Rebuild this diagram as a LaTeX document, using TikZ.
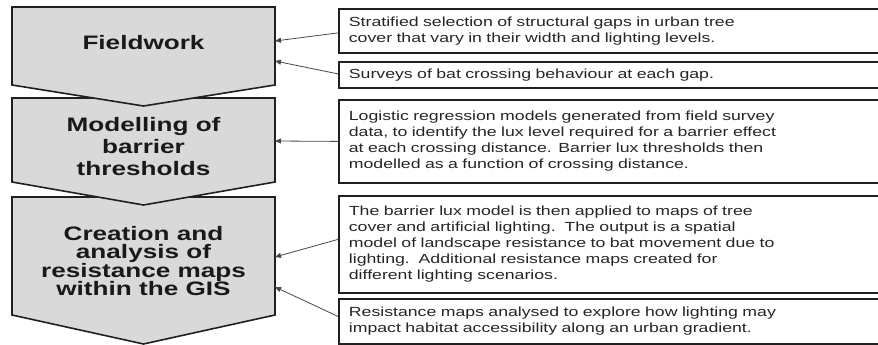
\documentclass[tikz,border=0pt]{standalone}
\usepackage{fontspec}
\setmainfont{Liberation Sans}[FakeStretch=1.34]
\usetikzlibrary{arrows.meta}

\definecolor{stagefill}{HTML}{D9D9D9}
\definecolor{edgegray}{HTML}{202020}
\definecolor{textgray}{HTML}{262626}
\definecolor{linkgray}{HTML}{484848}

\tikzset{
  stagebox/.style={fill=stagefill, draw=edgegray, line width=1.6pt, line join=miter},
  stagetext/.style={align=center, text=black!90, font=\bfseries\fontsize{19.5}{22}\selectfont},
  notebox/.style={draw=edgegray, line width=1.8pt, fill=white, anchor=north west,
    minimum width=545pt, inner xsep=10pt, inner ysep=0pt, text width=525pt,
    align=left, text=textgray, font=\fontsize{13.2}{16}\selectfont},
  link/.style={draw=linkgray, line width=0.8pt, -{Triangle[length=6pt,width=5pt]}}
}

\begin{document}
\begin{tikzpicture}[x=1pt,y=-1pt]
  \clip (0,0) rectangle (878,345);
  \fill[white] (0,0) rectangle (878,345);

  % process stages, drawn bottom-up so each point lies over the next stage
  \draw[stagebox] (12,197) -- (275,197) -- (275,315) -- (143.5,344) -- (12,315) -- cycle;
  \draw[stagebox] (12,98) -- (275,98) -- (275,182) -- (143.5,205) -- (12,182) -- cycle;
  \draw[stagebox] (12,7) -- (275,7) -- (275,85) -- (143.5,106) -- (12,85) -- cycle;

  \node[stagetext] (fw) at (143.5,43) {Fieldwork};
  \node[stagetext, font=\bfseries\fontsize{19.5}{22}\selectfont] (mod) at (143.5,147)
    {Modelling of\\barrier\\thresholds};
  \node[stagetext, font=\bfseries\fontsize{19.5}{18.5}\selectfont] (gis) at (143.5,261)
    {Creation and\\analysis of\\resistance maps\\within the GIS};

  % arrow targets on the right edge of the stages
  \coordinate (fwa) at (275,41);
  \coordinate (fwb) at (275,61);
  \coordinate (moda) at (275,141);
  \coordinate (gisa) at (275,257);
  \coordinate (gisb) at (275,287);

  % description boxes
  \node[notebox, minimum height=44pt] (n1) at (338,8)
    {Stratified selection of structural gaps in urban tree\\cover that vary in their width and lighting levels.};
  \node[notebox, minimum height=26pt] (n2) at (338,61)
    {Surveys of bat crossing behaviour at each gap.};
  \node[notebox, minimum height=83pt] (n3) at (338,99)
    {Logistic regression models generated from field survey\\data, to identify the lux level required for a barrier effect\\at each crossing distance. Barrier lux thresholds then\\modelled as a function of crossing distance.};
  \node[notebox, minimum height=97pt] (n4) at (338,195)
    {The barrier lux model is then applied to maps of tree\\cover and artificial lighting.\ \ The output is a spatial\\model of landscape resistance to bat movement due to\\lighting.\ \ Additional resistance maps created for\\different lighting scenarios.};
  \node[notebox, minimum height=45pt] (n5) at (338,298)
    {Resistance maps analysed to explore how lighting may\\impact habitat accessibility along an urban gradient.};

  % connectors
  \draw[link] ([yshift=-2pt]n1.west) -- (fwa);
  \draw[link] ([yshift=1pt]n2.west) -- (fwb);
  \draw[link] (n3.west) -- (moda);
  \draw[link] ([yshift=5pt]n4.west) -- (gisa);
  \draw[link] ([yshift=5pt]n5.west) -- (gisb);
\end{tikzpicture}
\end{document}
